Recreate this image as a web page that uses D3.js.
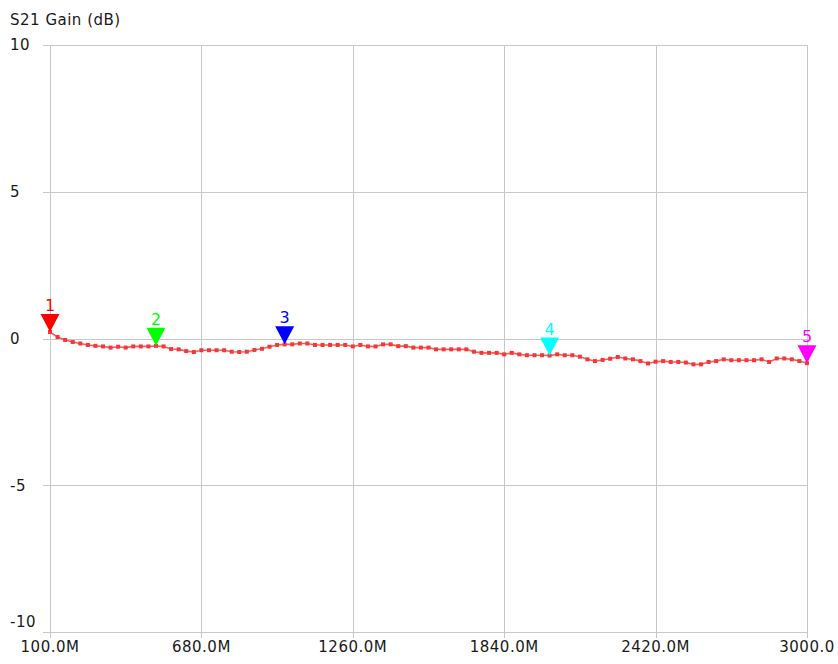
<!DOCTYPE html>
<html>
<head>
<meta charset="utf-8">
<script src="https://cdn.jsdelivr.net/npm/d3@7"></script>
<style>
  html, body { margin: 0; padding: 0; background: #ffffff; }
  svg { display: block; }
  text { font-family: "DejaVu Sans", Verdana, sans-serif; font-size: 15px; letter-spacing: 0.5px; fill: #1a1a1a; }
</style>
</head>
<body>
<svg id="chart" width="838" height="664"></svg>
<script>
// Sweep: 100 MHz to 3000 MHz, 101 points
const sweepStartMHz = 100;
const sweepStopMHz = 3000;
const sweepStepMHz = 29;

// S21 gain per sweep point (dB)
const gainDb = [
   0.22,  0.05, -0.05, -0.12, -0.17, -0.22, -0.25, -0.27, -0.31, -0.28,
  -0.31, -0.27, -0.27, -0.27, -0.25, -0.27, -0.36, -0.37, -0.43, -0.46,
  -0.40, -0.40, -0.40, -0.40, -0.45, -0.46, -0.45, -0.39, -0.35, -0.28,
  -0.22, -0.20, -0.20, -0.17, -0.17, -0.22, -0.22, -0.22, -0.22, -0.22,
  -0.27, -0.22, -0.27, -0.27, -0.20, -0.20, -0.26, -0.26, -0.31, -0.31,
  -0.31, -0.37, -0.37, -0.37, -0.37, -0.37, -0.45, -0.49, -0.49, -0.49,
  -0.54, -0.49, -0.54, -0.57, -0.57, -0.57, -0.58, -0.54, -0.57, -0.57,
  -0.62, -0.71, -0.77, -0.73, -0.69, -0.63, -0.68, -0.71, -0.77, -0.85,
  -0.79, -0.77, -0.80, -0.80, -0.82, -0.88, -0.88, -0.80, -0.77, -0.71,
  -0.74, -0.74, -0.74, -0.74, -0.71, -0.80, -0.68, -0.68, -0.71, -0.77,
  -0.84
];

// Markers: sweep-point index, label, colour
const markerIndex = [0, 14, 31, 66, 100];
const markerLabels = ["1", "2", "3", "4", "5"];
const markerColors = ["#ff0000", "#00ff00", "#0000ff", "#00ffff", "#ff00ff"];

// Axis ticks
const yTicks = [10, 5, 0, -5, -10];
const yTickLabels = ["10", "5", "0", "-5", "-10"];
const xTicks = [100, 680, 1260, 1840, 2420, 3000];
const xTickLabels = ["100.0M", "680.0M", "1260.0M", "1840.0M", "2420.0M", "3000.0"];

const title = "S21 Gain (dB)";

const freqMHz = d3.range(sweepStartMHz, sweepStopMHz + 1, sweepStepMHz);
const points = freqMHz.map((f, i) => ({ f, g: gainDb[i] }));

const svg = d3.select("#chart");
const plot = { left: 50, right: 807, top: 45, bottom: 632 };

const x = d3.scaleLinear().domain([sweepStartMHz, sweepStopMHz]).range([plot.left, plot.right]);
const y = d3.scaleLinear().domain([-10, 10]).range([plot.bottom, plot.top]);

const gridColor = "#c8c8c8";

// Horizontal grid + left ticks
svg.append("g")
  .selectAll("line")
  .data(yTicks)
  .join("line")
  .attr("x1", plot.left - 7).attr("x2", plot.right)
  .attr("y1", d => Math.round(y(d)) + 0.5).attr("y2", d => Math.round(y(d)) + 0.5)
  .attr("stroke", gridColor).attr("stroke-width", 1);

// Vertical grid + bottom ticks
svg.append("g")
  .selectAll("line")
  .data(xTicks)
  .join("line")
  .attr("x1", d => Math.round(x(d)) + 0.5).attr("x2", d => Math.round(x(d)) + 0.5)
  .attr("y1", plot.top).attr("y2", plot.bottom + 6)
  .attr("stroke", gridColor).attr("stroke-width", 1);

// Y tick labels (left aligned; bottom one lifted clear of the x labels)
svg.append("g")
  .selectAll("text")
  .data(yTicks)
  .join("text")
  .attr("x", 10)
  .attr("y", (d, i) => y(d) - (i === yTicks.length - 1 ? 10 : 0))
  .attr("dy", "0.36em")
  .text((d, i) => yTickLabels[i]);

// X tick labels
svg.append("g")
  .selectAll("text")
  .data(xTicks)
  .join("text")
  .attr("x", d => x(d))
  .attr("y", 652)
  .attr("text-anchor", "middle")
  .text((d, i) => xTickLabels[i]);

// Title
svg.append("text").attr("x", 10).attr("y", 25).text(title);

// Trace
const traceColor = "#f03a3a";
svg.append("path")
  .datum(points)
  .attr("d", d3.line().x(d => x(d.f)).y(d => y(d.g)))
  .attr("fill", "none")
  .attr("stroke", "#ff5a5a")
  .attr("stroke-width", 1.6);

svg.append("g")
  .selectAll("rect")
  .data(points)
  .join("rect")
  .attr("x", d => x(d.f) - 2)
  .attr("y", d => y(d.g) - 2)
  .attr("width", 4).attr("height", 4)
  .attr("fill", traceColor);

// Markers: downward triangles with tip on the trace, number above
const mk = svg.append("g")
  .selectAll("g")
  .data(markerIndex.map((idx, i) => ({ p: points[idx], label: markerLabels[i], color: markerColors[i] })))
  .join("g")
  .attr("transform", d => `translate(${x(d.p.f)},${y(d.p.g)})`);

mk.append("path")
  .attr("d", "M0,0 L-9.5,-18 L9.5,-18 Z")
  .attr("fill", d => d.color);

mk.append("text")
  .attr("x", 0)
  .attr("y", -21)
  .attr("text-anchor", "middle")
  .style("font-size", "16px")
  .style("letter-spacing", "0px")
  .style("fill", d => d.color)
  .text(d => d.label);
</script>
</body>
</html>
